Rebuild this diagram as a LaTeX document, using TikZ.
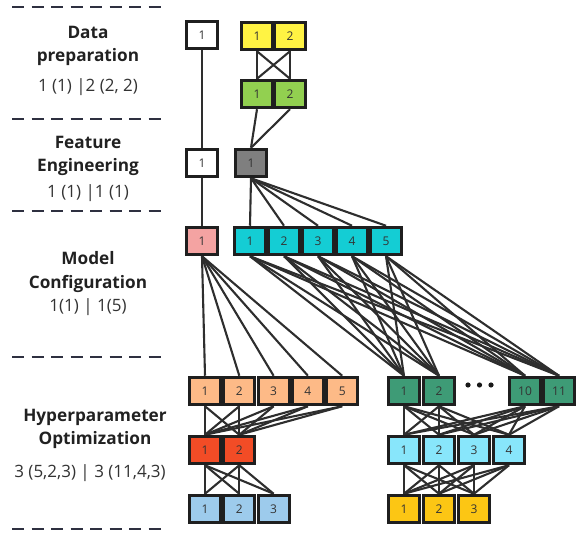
\documentclass[tikz,border=0pt]{standalone}
\usepackage{fontspec}
\setmainfont{Open Sans}
\usetikzlibrary{backgrounds}

\definecolor{dpyellow}{HTML}{FFF343}
\definecolor{dpgreen}{HTML}{92D050}
\definecolor{fegray}{HTML}{7F7F7F}
\definecolor{mcpink}{HTML}{F4A3A2}
\definecolor{mcteal}{HTML}{14CDD4}
\definecolor{hppeach}{HTML}{FDBA87}
\definecolor{hpred}{HTML}{F24C26}
\definecolor{hpblue}{HTML}{9DCBEC}
\definecolor{hpgreen}{HTML}{3E9B76}
\definecolor{hpcyan}{HTML}{88E6FB}
\definecolor{hpgold}{HTML}{FCC614}
\definecolor{sepcol}{HTML}{2E3040}

\begin{document}
\begin{tikzpicture}[x=1pt,y=-1pt,
    box/.style={draw=black!88,line width=3pt,minimum width=31pt,minimum height=27.5pt,
      inner sep=0pt,font=\fontsize{12}{13}\selectfont,text=black!80},
    link/.style={draw=black!82,line width=2.1pt},
    sepline/.style={draw=sepcol,line width=2pt,dash pattern=on 12pt off 7.5pt},
    stage/.style={font=\bfseries\fontsize{17.2}{23.5}\selectfont,align=center,text=black!87},
    stats/.style={font=\fontsize{17}{19}\selectfont,text=black!80}]
    \useasboundingbox (0,0) rectangle (576,534);

    % Separadores
    \foreach \y in {7,119,211,357,529}
      \draw[sepline] (12,\y) -- (162,\y);

    % Etiquetas de las etapas
    \node[stage] (tdp) at (88,46) {Data\\preparation};
    \node[stats] (sdp) at (88,87) {1 (1) |2 (2, 2)};
    \node[stage] (tfe) at (88,156) {Feature\\Engineering};
    \node[stats] (sfe) at (88,193) {1 (1) |1 (1)};
    \node[stage] (tmc) at (88,272) {Model\\Configuration};
    \node[stats] (smc) at (88,307) {1(1) | 1(5)};
    \node[stage] (thp) at (95,429) {Hyperparameter\\Optimization};
    \node[stats] (shp) at (90,473) {3 (5,2,3) | 3 (11,4,3)};

    % Data preparation
    \node[box,fill=white] (dpw) at (202,35) {1};
    \foreach \i in {1,2} {
      \node[box,fill=dpyellow] (dpy\i) at ({257+33*(\i-1)},36) {\i};
      \node[box,fill=dpgreen] (dpg\i) at ({257+33*(\i-1)},94) {\i};
    }

    % Feature engineering
    \node[box,fill=white] (few) at (202,163) {1};
    \node[box,fill=fegray] (feg) at (251,163) {1};

    % Model configuration
    \node[box,fill=mcpink] (mcp) at (202,241) {1};
    \foreach \i in {1,...,5}
      \node[box,fill=mcteal] (mct\i) at ({250+34*(\i-1)},241) {\i};

    % Hyperparameter optimization, rama izquierda
    \foreach \i in {1,...,5}
      \node[box,fill=hppeach] (hpo\i) at ({205+34.3*(\i-1)},391) {\i};
    \foreach \i in {1,2}
      \node[box,fill=hpred] (hpr\i) at ({205+34.3*(\i-1)},450) {\i};
    \foreach \i in {1,2,3}
      \node[box,fill=hpblue] (hpb\i) at ({205+34.3*(\i-1)},509) {\i};

    % Hyperparameter optimization, rama derecha
    \node[box,fill=hpgreen] (hpg1) at (404,391) {1};
    \node[box,fill=hpgreen] (hpg2) at (439,391) {2};
    \node[box,fill=hpgreen] (hpg10) at (525,391) {10};
    \node[box,fill=hpgreen] (hpg11) at (559,391) {11};
    \foreach \x in {468,479.5,491}
      \fill[black!90] (\x,385) circle (2.6pt);
    \foreach \i in {1,...,4}
      \node[box,fill=hpcyan] (hpc\i) at ({404+35*(\i-1)},450) {\i};
    \foreach \i in {1,2,3}
      \node[box,fill=hpgold] (hpy\i) at ({404+35*(\i-1)},509) {\i};

    % Conexiones
    \begin{scope}[on background layer]
      \draw[link] (dpw.south) -- (few.north);
      \draw[link] (few.south) -- (mcp.north);
      \foreach \i in {1,2} {
        \foreach \j in {1,2}
          \draw[link] (dpy\i.south) -- (dpg\j.north);
        \draw[link] (dpg\i.south) -- (feg.north);
      }
      \foreach \j in {1,...,5} {
        \draw[link] (feg.south) -- (mct\j.north);
        \draw[link] (mcp.south) -- (hpo\j.north);
        \foreach \k in {1,2,10,11}
          \draw[link] (mct\j.south) -- (hpg\k.north);
        \foreach \k in {1,2}
          \draw[link] (hpo\j.south) -- (hpr\k.north);
      }
      \foreach \i in {1,2}
        \foreach \j in {1,2,3}
          \draw[link] (hpr\i.south) -- (hpb\j.north);
      \foreach \i in {1,2,10,11}
        \foreach \j in {1,...,4}
          \draw[link] (hpg\i.south) -- (hpc\j.north);
      \foreach \i in {1,...,4}
        \foreach \j in {1,2,3}
          \draw[link] (hpc\i.south) -- (hpy\j.north);
    \end{scope}
  \end{tikzpicture}
\end{document}
